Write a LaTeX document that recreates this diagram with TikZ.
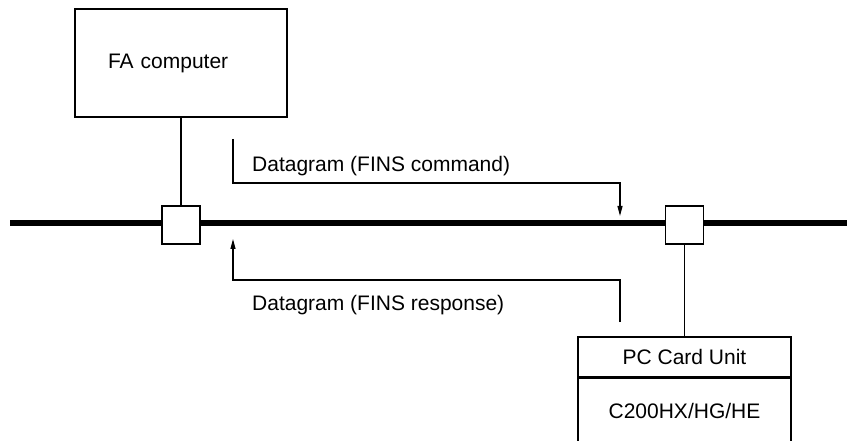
\documentclass[tikz,border=0pt]{standalone}
\usepackage{fontspec}
\setmainfont{Liberation Sans}
\usetikzlibrary{arrows.meta}

\begin{document}
\begin{tikzpicture}[
    x=1pt, y=-1pt,
    box/.style={draw, rectangle, line width=1.2pt, inner sep=0pt},
    link/.style={line width=1.2pt},
    flow/.style={line width=1.2pt, -{Triangle[width=5pt,length=10pt]}},
    font=\fontsize{21}{25}\selectfont
]
    \clip (0,0) rectangle (847,441);

    % Network line
    \coordinate (busW) at (10,223);
    \coordinate (busE) at (847,223);
    \draw[line width=6pt] (busW) -- (busE);

    % FA computer and its tap
    \node[box, minimum width=212, minimum height=108, text width=146, align=left] (fa) at (181,63) {FA computer};
    \node[box, fill=white, minimum size=38] (tapL) at (181,225) {};
    \draw[link] (fa) -- (tapL);

    % PC Card Unit and its tap
    \node[box, fill=white, minimum size=38] (tapR) at (684.5,225) {};
    \node[box, minimum width=213, minimum height=40] (pc) at (684.5,357) {PC Card Unit};
    \node[box, minimum width=213, minimum height=66, anchor=north] (pcl) at (pc.south) {C200HX/HG/HE};
    \draw[link] (tapR) -- (pc);

    % Command
    \coordinate (cmdS) at (233,139);
    \coordinate (cmdE) at (620,216);
    \draw[flow] (cmdS) -- ++(0,44) -| (cmdE);
    \node[anchor=base west, inner sep=0pt] (cmdT) at (252,171.7) {Datagram (FINS command)};

    % Response
    \coordinate (rspS) at (620,322);
    \coordinate (rspE) at (233,239);
    \draw[flow] (rspS) -- ++(0,-42) -| (rspE);
    \node[anchor=base west, inner sep=0pt] (rspT) at (252,310) {Datagram (FINS response)};
\end{tikzpicture}
\end{document}
